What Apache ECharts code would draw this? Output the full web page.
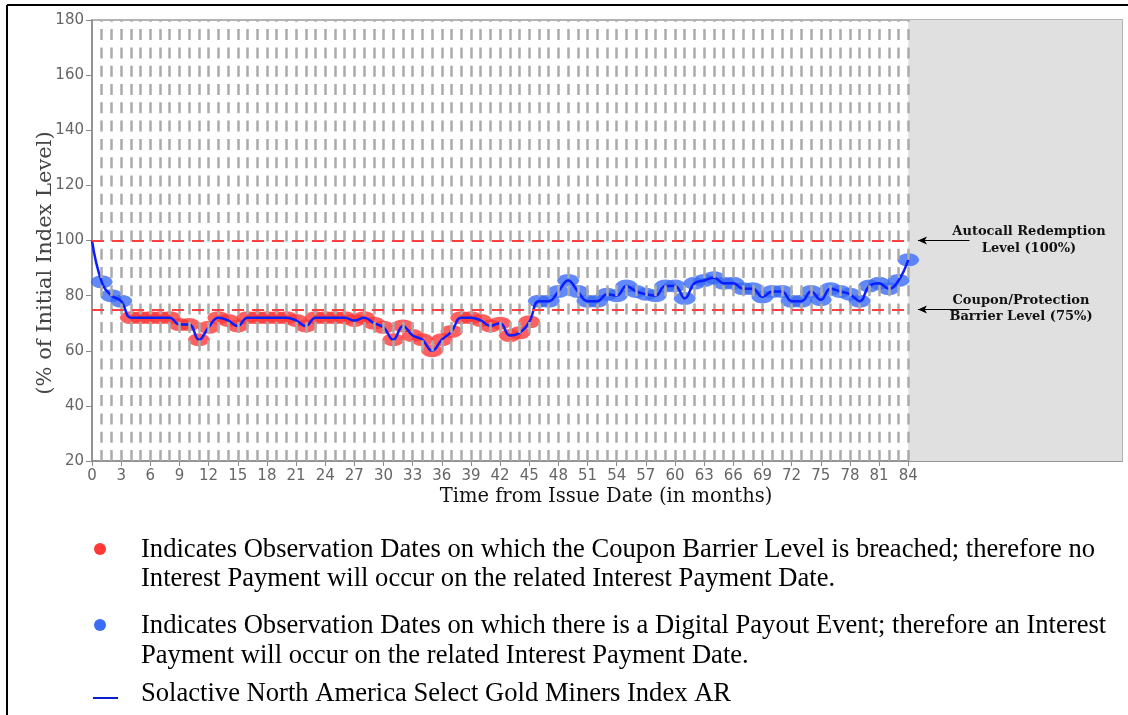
<!DOCTYPE html>
<html>
<head>
<meta charset="utf-8">
<script src="https://cdn.jsdelivr.net/npm/echarts@6/dist/echarts.min.js"></script>
<style>
  html, body {margin: 0; padding: 0; background: #fff;}
  #main {width: 1128px; height: 715px;}
</style>
</head>
<body>
<div id="main"></div>
<script>
// index level (% of initial) at each month, month 0 = issue date
let months = [0, 1, 2, 3, 4, 5, 6, 7, 8, 9, 10, 11, 12, 13, 14, 15, 16, 17, 18, 19, 20,
              21, 22, 23, 24, 25, 26, 27, 28, 29, 30, 31, 32, 33, 34, 35, 36, 37, 38, 39, 40,
              41, 42, 43, 44, 45, 46, 47, 48, 49, 50, 51, 52, 53, 54, 55, 56, 57, 58, 59, 60,
              61, 62, 63, 64, 65, 66, 67, 68, 69, 70, 71, 72, 73, 74, 75, 76, 77, 78, 79, 80,
              81, 82, 83, 84];
let levels = [100, 85, 80, 78, 72, 72, 72, 72, 72, 69.5, 69.5, 64, 68.5, 72, 71, 69, 72, 72, 72, 72, 72,
              71, 69, 72, 72, 72, 72, 71, 72, 70, 68.5, 64, 69, 65.5, 64, 60, 64, 67, 72, 72, 71,
              69, 70, 65.5, 66.5, 70.5, 78, 78, 81.5, 85.5, 81.5, 78, 78, 80.5, 80, 83.5, 81.5, 80.5, 80, 83.5, 83.5,
              79, 84.5, 85.5, 86.5, 84.5, 84.5, 82.5, 82.5, 79.5, 81.5, 81.5, 78, 78, 81.5, 78.5, 82.5, 81.5, 80.5, 78, 83.5,
              84.5, 82.5, 85.5, 93];

let autocallLevel = 100;
let barrierLevel = 75;
let lastMonth = 84;
let axisEnd = 106;

let xTicks = [0, 3, 6, 9, 12, 15, 18, 21, 24, 27, 30, 33, 36, 39, 42, 45, 48, 51, 54, 57, 60,
              63, 66, 69, 72, 75, 78, 81, 84];

let legendLines = [
  'Indicates Observation Dates on which the Coupon Barrier Level is breached; therefore no',
  'Interest Payment will occur on the related Interest Payment Date.',
  'Indicates Observation Dates on which there is a Digital Payout Event; therefore an Interest',
  'Payment will occur on the related Interest Payment Date.',
  'Solactive North America Select Gold Miners Index AR'
];

let RED = '#ff3838';
let BLUE = '#3a6cf5';
let SERIF = '"Liberation Serif", "Times New Roman", serif';

// -- split observation points by barrier --
let redPoints = [];
let bluePoints = [];
let linePoints = [];
months.forEach(function (m, i) {
  linePoints.push([m, levels[i]]);
  if (m === 0) return;
  if (levels[i] < barrierLevel) {
    redPoints.push([m, levels[i]]);
  } else {
    bluePoints.push([m, levels[i]]);
  }
});

// observation date guide lines
let obsLines = [];
for (let m = 1; m <= lastMonth; m++) {
  obsLines.push({xAxis: m});
}

let myChart = echarts.init(document.getElementById('main'));

let option = {
  animation: false,
  grid: {
    left: 92, right: 6, top: 20, bottom: 254,
    show: true, borderColor: '#9a9a9a', borderWidth: 1.5, backgroundColor: 'transparent'
  },
  xAxis: {
    type: 'value', min: 0, max: axisEnd,
    axisLine: {show: true, lineStyle: {color: '#8a8a8a', width: 1.5}},
    axisTick: {show: true, length: 5, customValues: xTicks, lineStyle: {color: '#8a8a8a'}},
    axisLabel: {customValues: xTicks, color: '#666', fontFamily: 'DejaVu Sans', fontSize: 15, margin: 8},
    splitLine: {show: false}
  },
  yAxis: {
    type: 'value', min: 20, max: 180, interval: 20,
    axisLine: {show: true, lineStyle: {color: '#8a8a8a', width: 1.5}},
    axisTick: {show: true, length: 6, lineStyle: {color: '#8a8a8a'}},
    axisLabel: {color: '#666', fontFamily: 'DejaVu Sans', fontSize: 15, margin: 8},
    splitLine: {show: false}
  },
  series: [
    {
      // background: grey zone after maturity, dashed guides
      type: 'line', data: [], silent: true,
      markArea: {
        silent: true,
        itemStyle: {color: '#e0e0e0'},
        data: [[{xAxis: lastMonth}, {xAxis: axisEnd}]]
      },
      markLine: {
        silent: true, symbol: 'none', animation: false,
        label: {show: false},
        lineStyle: {color: '#ababab', width: 2.5, type: [11, 7.3]},
        data: obsLines
      }
    },
    {
      // autocall and barrier levels
      type: 'line', data: [], silent: true,
      markLine: {
        silent: true, symbol: 'none', animation: false,
        label: {show: false},
        lineStyle: {color: '#ff4040', width: 2.2, type: [12, 8]},
        data: [
          [{coord: [0, autocallLevel]}, {coord: [lastMonth, autocallLevel]}],
          [{coord: [0, barrierLevel]}, {coord: [lastMonth, barrierLevel]}]
        ]
      }
    },
    {
      // arrows pointing at the level lines
      type: 'line', data: [], silent: true,
      markLine: {
        silent: true, symbol: ['arrow', 'none'], symbolSize: [6, 9], animation: false,
        label: {show: false},
        lineStyle: {color: '#000', width: 1, type: 'solid'},
        data: [
          [{coord: [85, autocallLevel]}, {coord: [90.3, autocallLevel]}],
          [{coord: [85, barrierLevel]}, {coord: [90.3, barrierLevel]}]
        ]
      }
    },
    {
      name: 'breached', type: 'scatter', data: redPoints,
      symbol: 'circle', symbolSize: [22, 13], z: 3,
      itemStyle: {color: RED}
    },
    {
      name: 'payout', type: 'scatter', data: bluePoints,
      symbol: 'circle', symbolSize: [22, 13], z: 3,
      itemStyle: {color: BLUE}
    },
    {
      name: 'index', type: 'line', data: linePoints, smooth: 0.45,
      showSymbol: false, z: 4,
      lineStyle: {color: '#0a1eff', width: 2.5}
    }
  ],
  graphic: [
    // outer frame
    {type: 'line', z: 100, shape: {x1: 7, y1: 5, x2: 1128, y2: 5}, style: {stroke: '#000', lineWidth: 2}},
    {type: 'line', z: 100, shape: {x1: 7, y1: 5, x2: 7, y2: 715}, style: {stroke: '#000', lineWidth: 2}},
    // axis names
    {
      type: 'text', z: 100, x: 46, y: 263, rotation: Math.PI / 2,
      style: {text: '(% of Initial Index Level)', font: '21px "DejaVu Serif"', fill: '#444',
              align: 'center', verticalAlign: 'middle'}
    },
    {
      type: 'text', z: 100, x: 606, y: 497,
      style: {text: 'Time from Issue Date (in months)', font: '19.5px "DejaVu Serif"', fill: '#111',
              align: 'center', verticalAlign: 'middle'}
    },
    // level annotations
    {
      type: 'text', z: 100, x: 1029, y: 240,
      style: {text: 'Autocall Redemption\nLevel (100%)', font: 'bold 13px "DejaVu Serif"', fill: '#111',
              align: 'center', verticalAlign: 'middle', lineHeight: 16.5}
    },
    {
      type: 'text', z: 100, x: 1021, y: 308.5,
      style: {text: 'Coupon/Protection\nBarrier Level (75%)', font: 'bold 13px "DejaVu Serif"', fill: '#111',
              align: 'center', verticalAlign: 'middle', lineHeight: 16.5}
    },
    // legend below the chart
    {type: 'circle', z: 100, shape: {cx: 100, cy: 549, r: 6}, style: {fill: RED}},
    {type: 'circle', z: 100, shape: {cx: 100, cy: 625, r: 6}, style: {fill: BLUE}},
    {type: 'line', z: 100, shape: {x1: 93, y1: 698, x2: 118, y2: 698}, style: {stroke: '#0a1ecc', lineWidth: 2}},
    {type: 'text', z: 100, x: 141, y: 550, style: {text: legendLines[0], font: '26.6px ' + SERIF, fill: '#000', verticalAlign: 'middle'}},
    {type: 'text', z: 100, x: 141, y: 579, style: {text: legendLines[1], font: '26.6px ' + SERIF, fill: '#000', verticalAlign: 'middle'}},
    {type: 'text', z: 100, x: 141, y: 626, style: {text: legendLines[2], font: '26.6px ' + SERIF, fill: '#000', verticalAlign: 'middle'}},
    {type: 'text', z: 100, x: 141, y: 656, style: {text: legendLines[3], font: '26.6px ' + SERIF, fill: '#000', verticalAlign: 'middle'}},
    {type: 'text', z: 100, x: 141, y: 694, style: {text: legendLines[4], font: '26.6px ' + SERIF, fill: '#000', verticalAlign: 'middle'}}
  ]
};

myChart.setOption(option);
</script>
</body>
</html>
